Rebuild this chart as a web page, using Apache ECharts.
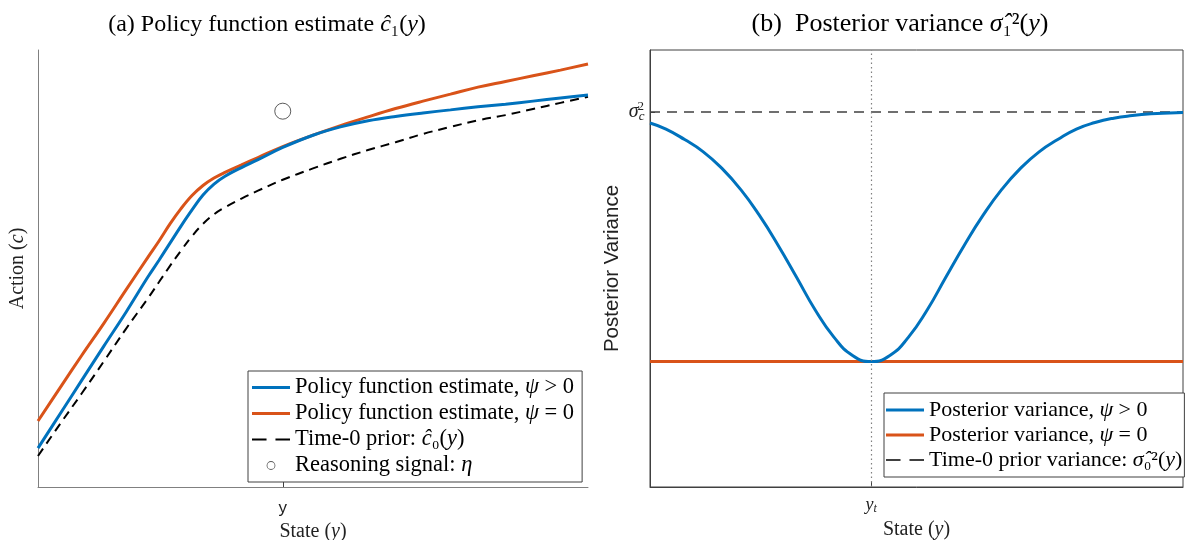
<!DOCTYPE html>
<html><head><meta charset="utf-8">
<script src="https://cdn.jsdelivr.net/npm/echarts@6/dist/echarts.min.js"></script>
<style>html,body{margin:0;padding:0;background:#fff}#c{width:1196px;height:540px}</style>
</head><body><div id="c"></div>
<script>
// ---- Panel (a): policy function estimates ----
const xA = [0,0.4,0.8,1.2,1.6,2.0,2.2,2.4,2.6,2.8,3.0,3.2,3.4,3.7,4.0,4.45,5.0,5.5,6.0,6.5,7.0,7.5,8.0,8.5,9.0,9.5,10];
const policyPsiPos = [0.89,1.67,2.45,3.23,4.00,4.81,5.19,5.58,5.97,6.34,6.68,6.93,7.11,7.31,7.49,7.77,8.05,8.24,8.38,8.48,8.56,8.63,8.70,8.76,8.83,8.90,8.97];
const policyPsiZero = [1.51,2.27,3.02,3.75,4.51,5.26,5.63,6.02,6.37,6.67,6.90,7.07,7.20,7.37,7.54,7.79,8.05,8.27,8.47,8.66,8.83,8.99,9.15,9.28,9.41,9.54,9.68];
const priorC0 = [0.71,1.44,2.15,2.88,3.62,4.32,4.69,5.06,5.41,5.74,6.02,6.24,6.40,6.60,6.78,7.03,7.29,7.51,7.71,7.89,8.08,8.24,8.39,8.51,8.65,8.79,8.93];
const signalPoint = [4.45, 8.60];
const stateTickA = 4.45;

// ---- Panel (b): posterior variance ----
const xB = [0,0.30,0.65,1.00,1.35,1.70,2.05,2.40,2.75,3.10,3.45,3.80,4.15,4.50,4.85,5.20,5.55,5.90,6.25,6.60,6.95,7.30,7.65,8.00,8.35,8.70,9.05,9.40,9.75,10];
const postVarPsiPos = [8.33,8.19,7.95,7.67,7.29,6.81,6.22,5.54,4.80,4.05,3.43,3.01,2.87,3.01,3.43,4.05,4.80,5.54,6.22,6.81,7.29,7.67,7.95,8.19,8.34,8.44,8.50,8.54,8.56,8.57];
const postVarPsiZero = 2.87;
const priorVariance = 8.58;
const yt = 4.15;
const xRange = [0, 10];

const BLUE = '#0072BD', ORANGE = '#D95319';
const SERIF = '"Liberation Serif","DejaVu Serif",serif';
const SANS = '"Liberation Sans","DejaVu Sans",sans-serif';

const zip = (xs, ys) => xs.map((x, i) => [x, ys[i]]);

const chart = echarts.init(document.getElementById('c'), null, {renderer: 'canvas'});

const LINE_ICON = 'path://M0,0h38v3h-38z';
const DASH_ICON = 'path://M0,0h13v2h-13zM21,0h13v2h-13z';
const RING_ICON = 'path://M0,0h0.01v0.01h-0.01zM38,14h0.01v0.01h-0.01zM14.6,7a4.4,4.4 0 1,0 8.8,0a4.4,4.4 0 1,0 -8.8,0zM15.4,7a3.6,3.6 0 1,1 7.2,0a3.6,3.6 0 1,1 -7.2,0z';

const FS = 22.5;
const legRich = {
  t: {fontFamily: SERIF, fontSize: FS, color: '#000', lineHeight: 20},
  m: {fontFamily: SERIF, fontSize: FS, fontStyle: 'italic', color: '#000', lineHeight: 20}
};
const legFmt = {
  'Policy function estimate, ψ > 0': '{t|Policy function estimate, }{m|ψ}{t| > 0}',
  'Policy function estimate, ψ = 0': '{t|Policy function estimate, }{m|ψ}{t| = 0}',
  'Time-0 prior: ĉ0(y)': '{t|Time-0 prior: }{m|ĉ}{t|₀(}{m|y}{t|)}',
  'Reasoning signal: η': '{t|Reasoning signal: }{m|η}',
  'Posterior variance, ψ > 0': '{t|Posterior variance, }{m|ψ}{t| > 0}',
  'Posterior variance, ψ = 0': '{t|Posterior variance, }{m|ψ}{t| = 0}',
  'Time-0 prior variance: σ0(y)': '{t|Time-0 prior variance: }{m|σ̂}{t|₀²(}{m|y}{t|)}'
};
const mkTitleRich = fs => ({n: {fontFamily: SERIF, fontSize: fs, color: '#000', fontWeight: 'normal'}, m: {fontFamily: SERIF, fontSize: fs, fontStyle: 'italic', color: '#000', fontWeight: 'normal'}});
const nameRich = {n: {fontFamily: SERIF, fontSize: 20, color: '#222'}, m: {fontFamily: SERIF, fontSize: 20, fontStyle: 'italic', color: '#222'}};

const option = {
  animation: false,
  backgroundColor: '#fff',
  title: [
    {text: '{n|(a) Policy function estimate }{m|ĉ}{n|₁(}{m|y}{n|)}', left: 262, top: 8, textAlign: 'center',
     textStyle: {fontWeight: 'normal', rich: mkTitleRich(24)}},
    {text: '{n|(b)  Posterior variance }{m|σ̂}{n|₁²(}{m|y}{n|)}', left: 895, top: 6, textAlign: 'center',
     textStyle: {fontWeight: 'normal', rich: mkTitleRich(26)}}
  ],
  grid: [
    {left: 38, top: 50, width: 550, height: 437, show: false, outerBoundsMode: 'none', containLabel: false},
    {left: 650, top: 50, width: 533, height: 437, show: true, borderColor: '#404040', borderWidth: 1, backgroundColor: '#fff', outerBoundsMode: 'none', containLabel: false}
  ],
  legend: [
    {orient: 'vertical', left: 248, top: 371,
     backgroundColor: '#fff', borderColor: '#404040', borderWidth: 1, borderRadius: 0,
     padding: [5, 8, 5, 4], itemGap: 3, itemWidth: 38, itemHeight: 14,
     itemStyle: {borderWidth: 0},
     data: [
       {name: 'Policy function estimate, ψ > 0', icon: LINE_ICON},
       {name: 'Policy function estimate, ψ = 0', icon: LINE_ICON},
       {name: 'Time-0 prior: ĉ0(y)', icon: DASH_ICON},
       {name: 'Reasoning signal: η', icon: RING_ICON, itemStyle: {color: '#333', borderWidth: 0}}
     ],
     formatter: n => legFmt[n], textStyle: {rich: legRich}},
    {orient: 'vertical', left: 884, top: 393,
     backgroundColor: '#fff', borderColor: '#404040', borderWidth: 1, borderRadius: 0,
     padding: [6, 2, 6, 2], itemGap: 3, itemWidth: 38, itemHeight: 14,
     itemStyle: {borderWidth: 0},
     textStyle: {rich: {
       t: {fontFamily: SERIF, fontSize: 22, color: '#000', lineHeight: 20},
       m: {fontFamily: SERIF, fontSize: 22, fontStyle: 'italic', color: '#000', lineHeight: 20}}},
     data: [
       {name: 'Posterior variance, ψ > 0', icon: LINE_ICON},
       {name: 'Posterior variance, ψ = 0', icon: LINE_ICON},
       {name: 'Time-0 prior variance: σ0(y)', icon: DASH_ICON}
     ],
     formatter: n => legFmt[n]}
  ],
  xAxis: [
    {gridIndex: 0, type: 'value', min: xRange[0], max: xRange[1],
     axisLine: {show: true, lineStyle: {color: '#808080', width: 1}},
     axisTick: {show: true, inside: true, length: 5, customValues: [stateTickA], lineStyle: {color: '#404040'}},
     axisLabel: {show: true, customValues: [stateTickA], formatter: () => 'y', fontFamily: SANS, fontSize: 17, color: '#222', margin: 13},
     splitLine: {show: false},
     name: '{n|State (}{m|y}{n|)}', nameLocation: 'middle', nameGap: 32,
     nameTextStyle: {rich: nameRich}},
    {gridIndex: 1, type: 'value', min: xRange[0], max: xRange[1],
     axisLine: {show: true, lineStyle: {color: '#404040', width: 1}},
     axisTick: {show: true, inside: true, length: 5, customValues: [yt], lineStyle: {color: '#404040'}},
     axisLabel: {show: true, customValues: [yt], formatter: () => '{m|y}{s|t}', margin: 8,
       rich: {m: {fontFamily: SERIF, fontSize: 18, fontStyle: 'italic', color: '#222'}, s: {fontFamily: SERIF, fontSize: 12, fontStyle: 'italic', color: '#222', padding: [8, 0, 0, 0]}}},
     splitLine: {show: false},
     name: '{n|State (}{m|y}{n|)}', nameLocation: 'middle', nameGap: 29,
     nameTextStyle: {rich: nameRich}}
  ],
  yAxis: [
    {gridIndex: 0, type: 'value', min: 0, max: 10,
     axisLine: {show: true, lineStyle: {color: '#808080', width: 1}},
     axisTick: {show: false}, axisLabel: {show: false}, splitLine: {show: false},
     name: '{n|Action (}{m|c}{n|)}', nameLocation: 'middle', nameGap: 10,
     nameTextStyle: {rich: nameRich}},
    {gridIndex: 1, type: 'value', min: 0, max: 10,
     axisLine: {show: true, lineStyle: {color: '#404040', width: 1}},
     axisTick: {show: true, inside: true, length: 5, customValues: [priorVariance], lineStyle: {color: '#404040'}},
     axisLabel: {show: true, customValues: [priorVariance], formatter: () => '{m|σ}{s|c}{p|2}', margin: 6,
       rich: {m: {fontFamily: SERIF, fontSize: 20, fontStyle: 'italic', color: '#222'}, s: {fontFamily: SERIF, fontSize: 13, fontStyle: 'italic', color: '#222', padding: [10, 0, 0, 0]}, p: {fontFamily: SERIF, fontSize: 13, color: '#222', padding: [0, 0, 11, -7]}}},
     splitLine: {show: false},
     name: 'Posterior Variance', nameLocation: 'middle', nameGap: 27,
     nameTextStyle: {fontFamily: SANS, fontSize: 20.5, color: '#222'}}
  ],
  series: [
    {name: 'Time-0 prior: ĉ0(y)', type: 'line', xAxisIndex: 0, yAxisIndex: 0, data: zip(xA, priorC0), smooth: 0.4, symbol: 'none',
     lineStyle: {color: '#000', width: 2, type: [9, 6]}, itemStyle: {color: '#000'}, z: 2},
    {name: 'Policy function estimate, ψ = 0', type: 'line', xAxisIndex: 0, yAxisIndex: 0, data: zip(xA, policyPsiZero), smooth: 0.4, symbol: 'none',
     lineStyle: {color: ORANGE, width: 3}, itemStyle: {color: ORANGE}, z: 3},
    {name: 'Policy function estimate, ψ > 0', type: 'line', xAxisIndex: 0, yAxisIndex: 0, data: zip(xA, policyPsiPos), smooth: 0.4, symbol: 'none',
     lineStyle: {color: BLUE, width: 3}, itemStyle: {color: BLUE}, z: 4},
    {name: 'Reasoning signal: η', type: 'scatter', xAxisIndex: 0, yAxisIndex: 0, data: [signalPoint], symbol: 'circle', symbolSize: 16,
     itemStyle: {color: 'rgba(255,255,255,0)', borderColor: '#333', borderWidth: 1}, z: 5},
    {name: 'Time-0 prior variance: σ0(y)', type: 'line', xAxisIndex: 1, yAxisIndex: 1, data: xRange.map(x => [x, priorVariance]), symbol: 'none',
     lineStyle: {color: '#404040', width: 1.5, type: [10, 7]}, itemStyle: {color: '#404040'}, z: 2,
     markLine: {silent: true, symbol: 'none', label: {show: false}, data: [{xAxis: yt}],
       lineStyle: {color: '#808080', width: 1.2, type: [1.5, 3]}}},
    {name: 'Posterior variance, ψ = 0', type: 'line', xAxisIndex: 1, yAxisIndex: 1, data: xRange.map(x => [x, postVarPsiZero]), symbol: 'none',
     lineStyle: {color: ORANGE, width: 3}, itemStyle: {color: ORANGE}, z: 3},
    {name: 'Posterior variance, ψ > 0', type: 'line', xAxisIndex: 1, yAxisIndex: 1, data: zip(xB, postVarPsiPos), smooth: 0.5, symbol: 'none',
     lineStyle: {color: BLUE, width: 3}, itemStyle: {color: BLUE}, z: 4}
  ]
};
chart.setOption(option);
</script>
</body></html>
